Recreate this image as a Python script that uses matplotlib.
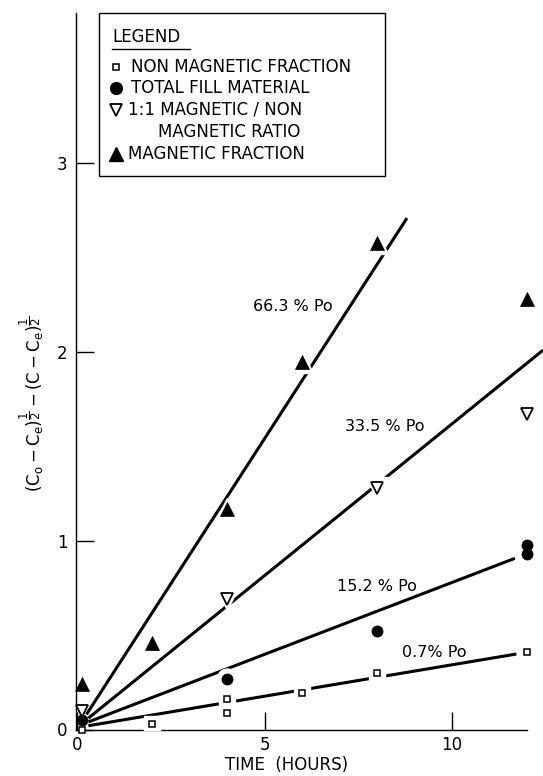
import numpy as np
import matplotlib
matplotlib.use('Agg')
import matplotlib.pyplot as plt
from matplotlib.lines import Line2D
from matplotlib.patches import Rectangle

W, H = 543, 776

# points, time in hours (t=0 points sit just right of the axis)
t_nonmag = [0.12, 2, 4, 4, 6, 8, 12]
y_nonmag = [0.0, 0.03, 0.16, 0.09, 0.195, 0.30, 0.41]

t_total = [0.12, 4, 8, 12, 12]
y_total = [0.05, 0.27, 0.52, 0.98, 0.93]

t_ratio = [0.12, 4, 8, 12]
y_ratio = [0.10, 0.69, 1.28, 1.67]

t_mag = [0.12, 2, 4, 6, 8, 12]
y_mag = [0.24, 0.46, 1.17, 1.95, 2.58, 2.28]

# hand drawn fit lines (end points)
fit_663_t = [0.25, 8.8]
fit_663_y = [0.08, 2.71]
fit_335_t = [0.3, 12.43]
fit_335_y = [0.06, 2.01]
fit_152_t = [0.3, 11.68]
fit_152_y = [0.04, 0.907]
fit_07_t = [0.3, 11.72]
fit_07_y = [0.02, 0.40]

line_labels = ['66.3 % Po', '33.5 % Po', '15.2 % Po', '0.7% Po']
label_t = [4.69, 7.15, 6.93, 8.66]
label_y = [2.244, 1.605, 0.757, 0.409]

x_ticks = [0, 5, 10]
y_ticks = [0, 1, 2, 3]


def fpx(x, y):
    return x / W, 1 - y / H


fig = plt.figure(figsize=(W / 100, H / 100), dpi=100)
ax = fig.add_axes([76 / W, 46.5 / H, 467 / W, 716.5 / H])
ax.set_xlim(-0.03, 12.43)
ax.set_ylim(0, 3.797)

for tt, yy in [(fit_663_t, fit_663_y), (fit_335_t, fit_335_y),
               (fit_152_t, fit_152_y), (fit_07_t, fit_07_y)]:
    ax.plot(tt, yy, color='black', lw=2.2, solid_capstyle='butt', zorder=2)

series = [
    (t_nonmag, y_nonmag, dict(marker='s', ms=5, mfc='white', mec='black', mew=1.1)),
    (t_total, y_total, dict(marker='o', ms=8, mfc='black', mec='black', mew=0.5)),
    (t_ratio, y_ratio, dict(marker='v', ms=8.5, mfc='white', mec='black', mew=1.3)),
    (t_mag, y_mag, dict(marker='^', ms=9.5, mfc='black', mec='black', mew=0.5)),
]
for tt, yy, st in series:
    tt = np.array(tt)
    yy = np.array(yy)
    keep = tt > 1
    # white halo makes the gaps in the lines around the points
    ax.plot(tt[keep], yy[keep], ls='none', marker=st['marker'], ms=st['ms'] + 7,
            mfc='white', mec='white', zorder=3)
    ax.plot(tt, yy, ls='none', zorder=4, clip_on=False, **st)

for lab, lt, ly in zip(line_labels, label_t, label_y):
    ax.text(lt, ly, lab, ha='left', va='center', fontsize=11.5, zorder=5)

ax.spines['top'].set_visible(False)
ax.spines['right'].set_visible(False)
ax.spines['bottom'].set_bounds(-0.03, 12.0)
for s in ['left', 'bottom']:
    ax.spines[s].set_linewidth(1.0)

ax.set_xticks(x_ticks)
ax.set_xticklabels([str(v) for v in x_ticks])
ax.set_yticks(y_ticks)
ax.set_yticklabels([str(v) for v in y_ticks])
ax.tick_params(axis='both', direction='in', length=13, width=1.0, labelsize=12)
ax.tick_params(axis='x', pad=5)
ax.tick_params(axis='y', pad=6)

fig.text(*fpx(287, 765), 'TIME  (HOURS)', ha='center', va='center', fontsize=12)
fig.text(*fpx(32, 404),
         r'$(\mathrm{C_o - C_e})^{\dfrac{1}{2}} - (\mathrm{C - C_e})^{\dfrac{1}{2}}$',
         rotation=90, ha='center', va='center', fontsize=12)

# legend box
fig.add_artist(Rectangle(fpx(99, 176), (385 - 99) / W, (176 - 13) / H,
                         transform=fig.transFigure, fill=True, facecolor='white',
                         edgecolor='black', lw=1.0, zorder=6))
fig.text(*fpx(112, 37), 'LEGEND', ha='left', va='center', fontsize=12, zorder=7)
fig.add_artist(Line2D([112 / W, 190 / W], [1 - 49 / H, 1 - 49 / H],
                      transform=fig.transFigure, color='black', lw=1.0, zorder=7))

leg_rows = [
    (66.7, 131, 'NON MAGNETIC FRACTION', dict(marker='s', ms=5, mfc='white', mec='black', mew=1.1)),
    (88.3, 131, 'TOTAL FILL MATERIAL', dict(marker='o', ms=8.5, mfc='black', mec='black')),
    (110, 128, '1:1 MAGNETIC / NON', dict(marker='v', ms=9, mfc='white', mec='black', mew=1.3)),
    (154, 128, 'MAGNETIC FRACTION', dict(marker='^', ms=10, mfc='black', mec='black')),
]
for yrow, xtext, txt, st in leg_rows:
    fig.add_artist(Line2D([116 / W], [1 - yrow / H], transform=fig.transFigure,
                          ls='none', zorder=7, **st))
    fig.text(*fpx(xtext, yrow), txt, ha='left', va='center', fontsize=12, zorder=7)
fig.text(*fpx(158, 131.7), 'MAGNETIC RATIO', ha='left', va='center', fontsize=12, zorder=7)

fig.savefig('out.png', dpi=100)
